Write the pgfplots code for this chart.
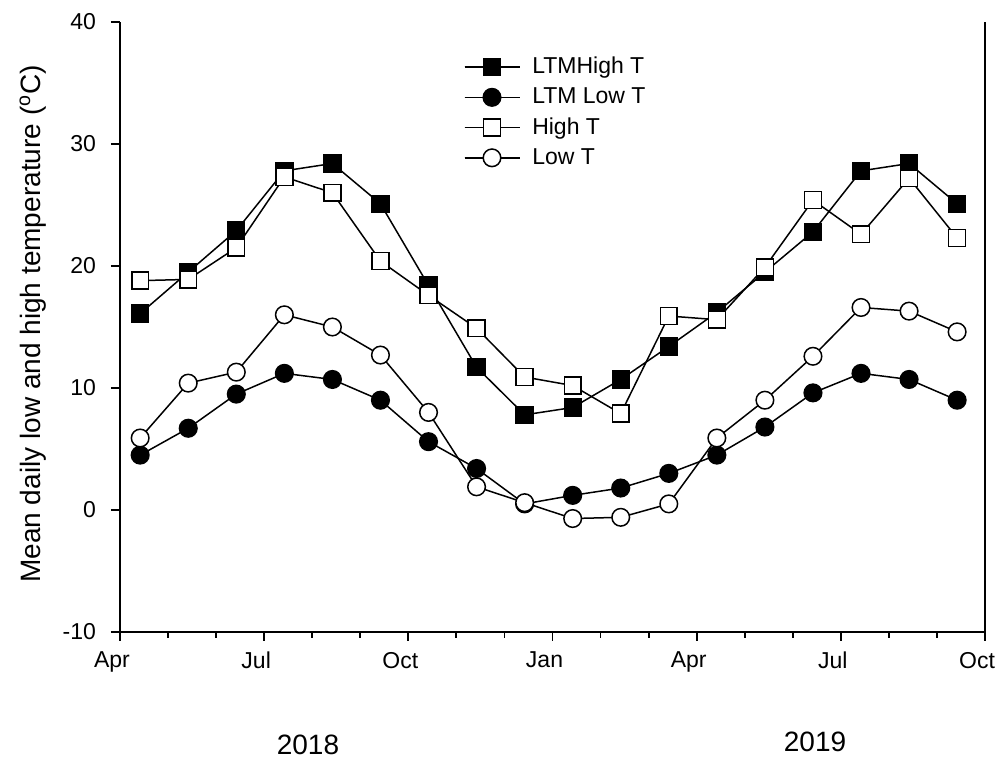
\documentclass[border=0pt]{standalone}
\usepackage{fontspec}
\setmainfont{Liberation Sans}
\usepackage{pgfplots}
\pgfplotsset{compat=1.18}

\begin{document}
\begin{tikzpicture}
\useasboundingbox (-60pt,-63pt) rectangle (440pt,316pt);
\begin{axis}[
  at={(0,0)}, anchor=south west,
  scale only axis, width=432.5pt, height=305pt,
  xmin=0, xmax=18, ymin=-10, ymax=40,
  axis x line=bottom, axis y line=left,
  axis line style={-, line width=0.9pt},
  xtick={0,3,...,18},
  xticklabels={Apr,Jul,Oct,Jan,Apr,Jul,Oct},
  minor xtick={1,2,4,5,7,8,10,11,13,14,16,17},
  ytick={-10,0,...,40},
  tick align=outside,
  major tick length=4.5pt, minor tick length=2.8pt,
  every tick/.style={line width=0.9pt, black},
  tick label style={font=\fontsize{11.5}{13}\selectfont},
  xticklabel style={yshift=-2pt, xshift=-4pt},
  yticklabel style={xshift=-4pt},
  /pgf/number format/assume math mode=true,
  ylabel={Mean daily low and high temperature (\textsuperscript{o}C)},
  ylabel style={font=\fontsize{14}{16}\selectfont, at={(axis description cs:-0.1006,0.505)}, anchor=center},
  clip=false,
  legend style={draw=none, fill=none, at={(axis description cs:0.39,0.956)}, anchor=north west,
    font=\fontsize{11.5}{13}\selectfont, row sep=1.5pt, legend cell align=left,
    nodes={inner xsep=6pt}},
  legend image code/.code={
    \draw[line width=0.75pt] (0pt,0pt) -- (27.5pt,0pt);
    \draw[mark repeat=2,mark phase=2] plot coordinates {(0pt,0pt) (13.75pt,0pt) (27.5pt,0pt)};
  },
]
\addplot[black, line width=0.75pt, mark=square*, mark size=4.2pt, mark options={solid, fill=black}] coordinates {
(0.42,16.1) (1.42,19.5) (2.42,22.9) (3.42,27.8) (4.42,28.4) (5.42,25.1) (6.42,18.4) (7.42,11.7) (8.42,7.8)
(9.42,8.4) (10.42,10.7) (11.42,13.4) (12.42,16.2) (13.42,19.5) (14.42,22.8) (15.42,27.8) (16.42,28.4) (17.42,25.1)};
\addlegendentry{LTMHigh T}
\addplot[black, line width=0.75pt, mark=*, mark size=4.4pt, mark options={solid, fill=black}] coordinates {
(0.42,4.5) (1.42,6.7) (2.42,9.5) (3.42,11.2) (4.42,10.7) (5.42,9.0) (6.42,5.6) (7.42,3.4) (8.42,0.5)
(9.42,1.2) (10.42,1.8) (11.42,3.0) (12.42,4.5) (13.42,6.8) (14.42,9.6) (15.42,11.2) (16.42,10.7) (17.42,9.0)};
\addlegendentry{LTM Low T}
\addplot[black, line width=0.75pt, mark=square*, mark size=4.2pt, mark options={solid, fill=white}] coordinates {
(0.42,18.8) (1.42,18.9) (2.42,21.5) (3.42,27.3) (4.42,26.0) (5.42,20.4) (6.42,17.6) (7.42,14.9) (8.42,10.9)
(9.42,10.2) (10.42,7.9) (11.42,15.9) (12.42,15.6) (13.42,19.9) (14.42,25.4) (15.42,22.6) (16.42,27.2) (17.42,22.3)};
\addlegendentry{High T}
\addplot[black, line width=0.75pt, mark=*, mark size=4.4pt, mark options={solid, fill=white}] coordinates {
(0.42,5.9) (1.42,10.4) (2.42,11.3) (3.42,16.0) (4.42,15.0) (5.42,12.7) (6.42,8.0) (7.42,1.9) (8.42,0.6)
(9.42,-0.7) (10.42,-0.6) (11.42,0.5) (12.42,5.9) (13.42,9.0) (14.42,12.6) (15.42,16.6) (16.42,16.3) (17.42,14.6)};
\addlegendentry{Low T}
\draw[line width=0.9pt] (rel axis cs:1,0) -- (rel axis cs:1,1);
\node[font=\fontsize{14}{16}\selectfont, anchor=center] at (axis description cs:0.2173,-0.185) {2018};
\node[font=\fontsize{14}{16}\selectfont, anchor=center] at (axis description cs:0.8035,-0.180) {2019};
\end{axis}
\end{tikzpicture}
\end{document}
